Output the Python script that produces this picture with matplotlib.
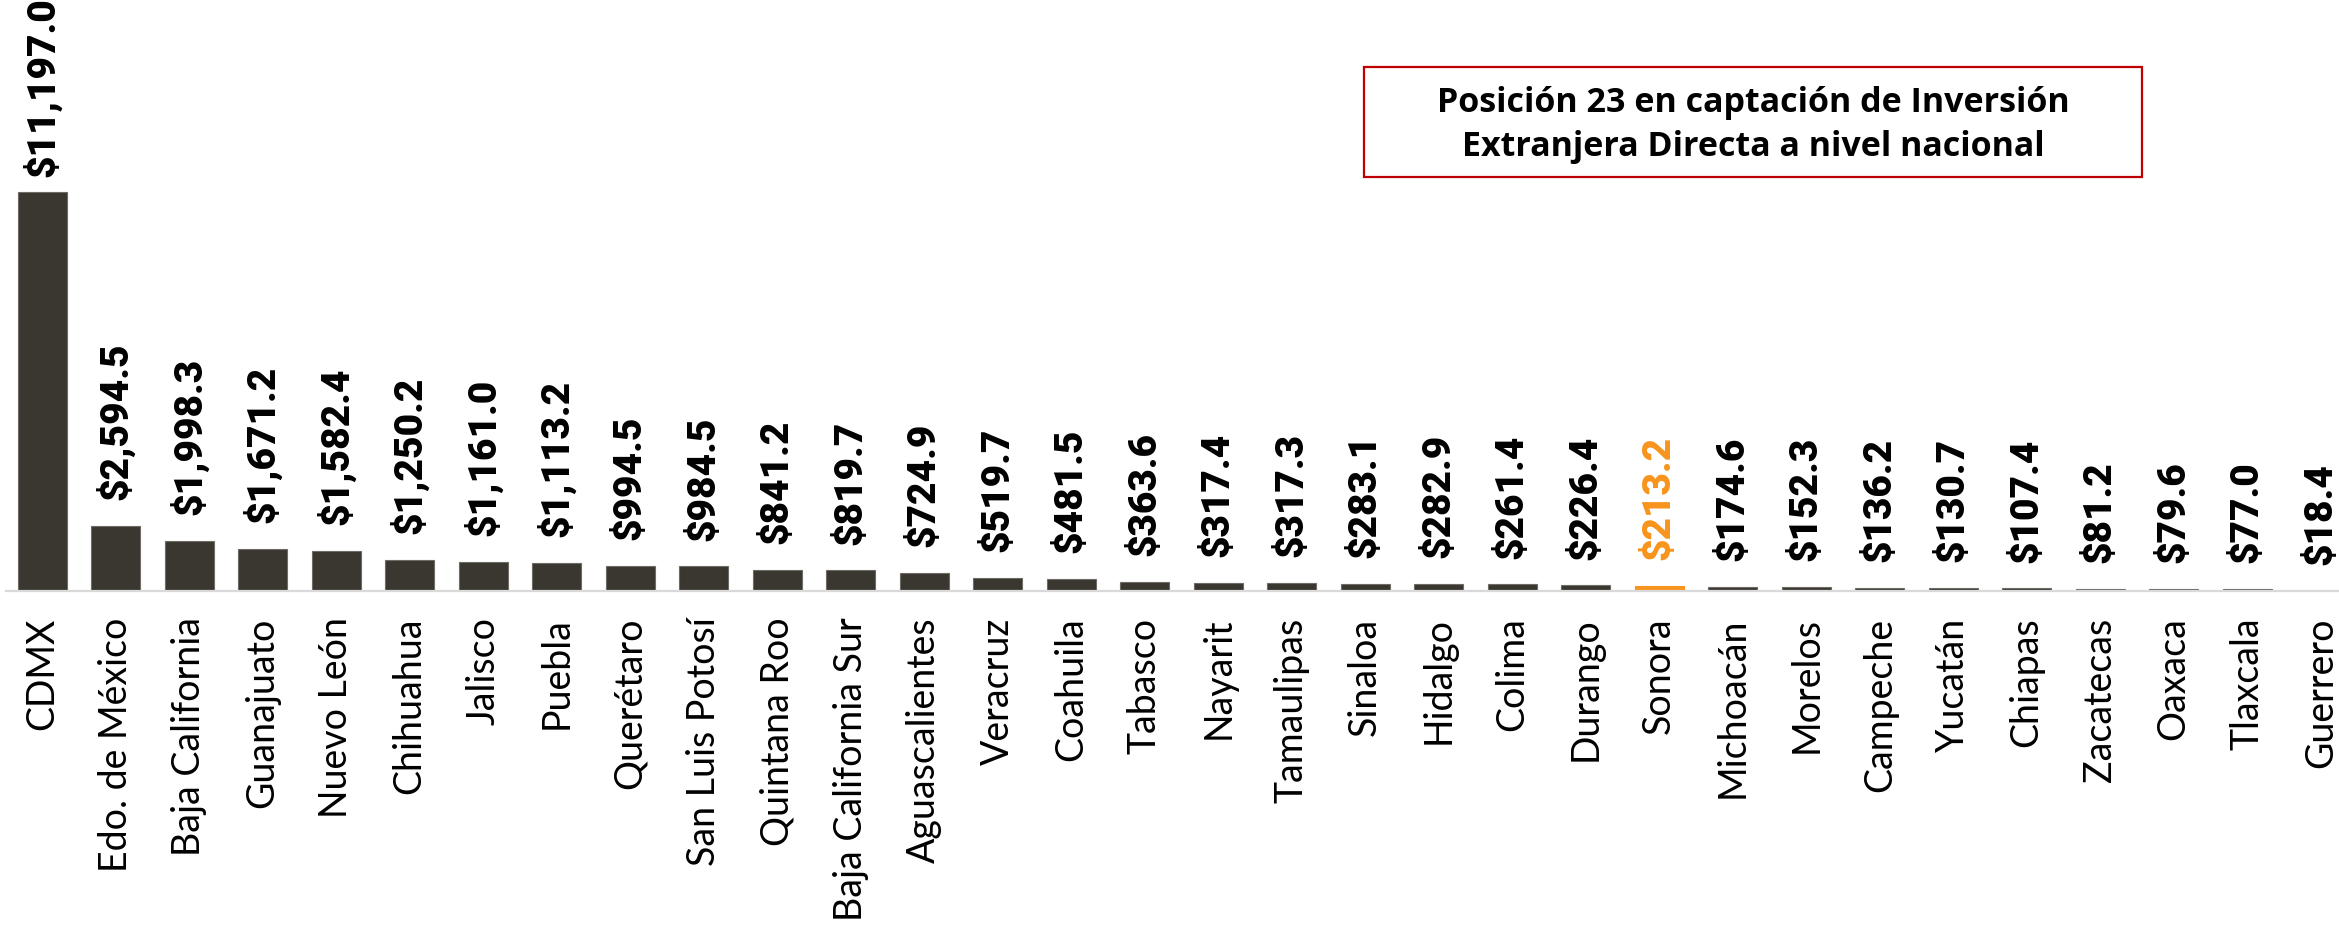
import matplotlib
matplotlib.use("Agg")
import matplotlib.pyplot as plt
from matplotlib.patches import Rectangle

estados = ["CDMX", "Edo. de México", "Baja California", "Guanajuato", "Nuevo León",
           "Chihuahua", "Jalisco", "Puebla", "Querétaro", "San Luis Potosí",
           "Quintana Roo", "Baja California Sur", "Aguascalientes", "Veracruz",
           "Coahuila", "Tabasco", "Nayarit", "Tamaulipas", "Sinaloa", "Hidalgo",
           "Colima", "Durango", "Sonora", "Michoacán", "Morelos", "Campeche",
           "Yucatán", "Chiapas", "Zacatecas", "Oaxaca", "Tlaxcala", "Guerrero"]
valores = [11197.0, 2594.5, 1998.3, 1671.2, 1582.4, 1250.2, 1161.0, 1113.2,
           994.5, 984.5, 841.2, 819.7, 724.9, 519.7, 481.5, 363.6, 317.4, 317.3,
           283.1, 282.9, 261.4, 226.4, 213.2, 174.6, 152.3, 136.2, 130.7, 107.4,
           81.2, 79.6, 77.0, 18.4]
# Drawn bar height of CDMX (taller than its label scale)
altura_cdmx = 15860.0
destacado = "Sonora"
titulo_cuadro = "Posición 23 en captación de Inversión\nExtranjera Directa a nivel nacional"

alturas = [altura_cdmx] + valores[1:]

W, H = 2339, 939
fig = plt.figure(figsize=(W / 100, H / 100), dpi=100)
ax_left = 5.5 / W
ax_w = (32 * 73.5) / W
ax_bottom = 1 - 591 / H
ax = fig.add_axes([ax_left, ax_bottom, ax_w, 591 / H])

oscuro = "#3A3731"
naranja = "#F7941D"
colores = [naranja if e == destacado else oscuro for e in estados]
bordes = ["#F7941D" if e == destacado else "#6E6A64" for e in estados]
x = list(range(len(estados)))
ax.bar(x, alturas, width=0.665, color=colores, edgecolor=bordes, linewidth=0.8)

ax.set_xlim(-0.5, len(estados) - 0.5)
ax.set_ylim(0, 591 / 0.02516)

for i, (v, h, e) in enumerate(zip(valores, alturas, estados)):
    off = 11 if i == 0 else 18.5
    ax.annotate(f"${v:,.1f}", (i, h), xytext=(0, off), textcoords="offset points",
                rotation=90, ha="center", va="bottom", fontsize=28,
                fontweight="black", family=["Roboto", "DejaVu Sans"],
                color=naranja if e == destacado else "black",
                annotation_clip=False)

ax.set_xticks(x)
ax.set_xticklabels(estados, rotation=90, fontsize=27, family=["Lato", "DejaVu Sans"],
                   color="black")
ax.tick_params(axis="x", length=0, pad=19)
ax.set_yticks([])
for s in ["top", "right", "left"]:
    ax.spines[s].set_visible(False)
ax.spines["bottom"].set_color("#D9D9D9")
ax.spines["bottom"].set_linewidth(1.6)

# Annotation box
bx0, bx1 = 1364 / W, 2142 / W
by0, by1 = 1 - 177 / H, 1 - 67 / H
fig.patches.append(Rectangle((bx0, by0), bx1 - bx0, by1 - by0, transform=fig.transFigure,
                             facecolor="white", edgecolor="#C00000", linewidth=1.6))
fig.text((bx0 + bx1) / 2, 1 - 125 / H, titulo_cuadro, ha="center", va="center",
         fontsize=24.5, fontweight="bold", family=["Open Sans", "DejaVu Sans"],
         linespacing=1.35, color="black")

fig.savefig("out.png", dpi=100, facecolor="white")
